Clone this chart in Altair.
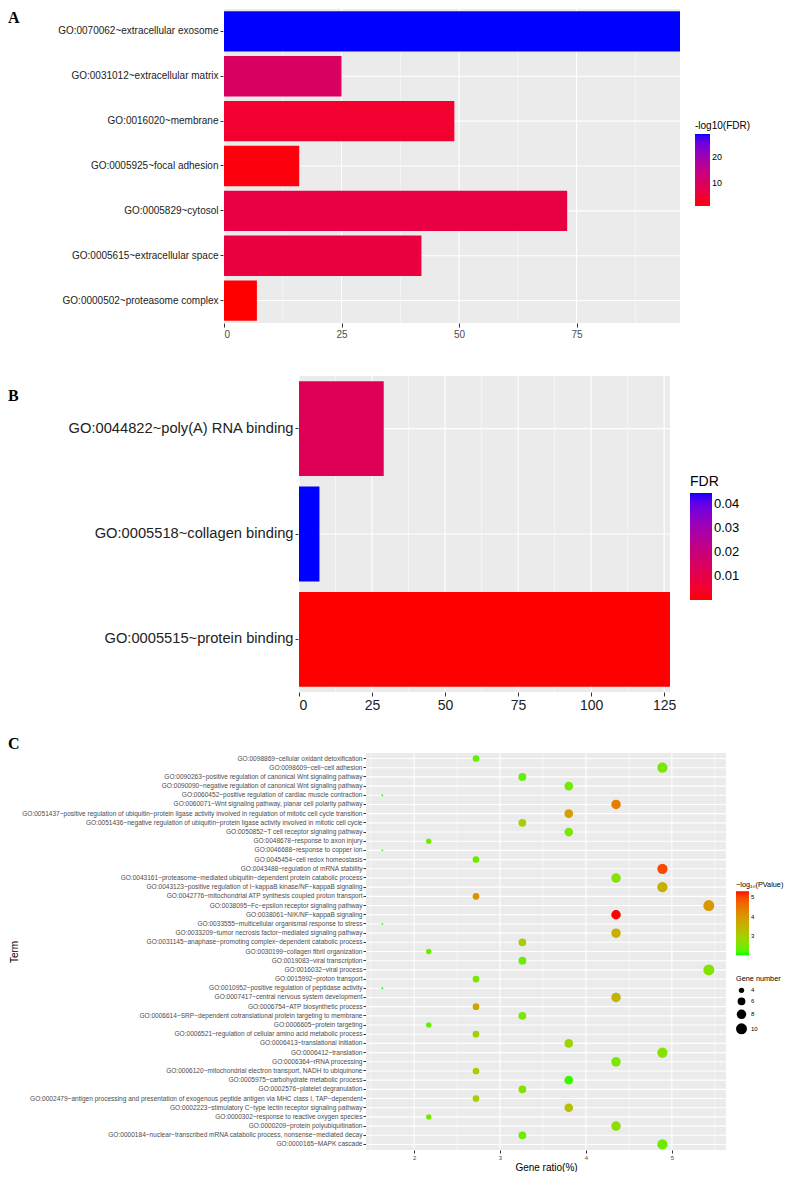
import altair as alt
import pandas as pd

FONT = "Liberation Sans"
SERIF = "Liberation Serif"
BG = "#EBEBEB"
AX_TXT = "#4D4D4D"
TICK = "#333333"

# ---------------- Panel A data ----------------
a_terms = [
    "GO:0070062~extracellular exosome",
    "GO:0031012~extracellular matrix",
    "GO:0016020~membrane",
    "GO:0005925~focal adhesion",
    "GO:0005829~cytosol",
    "GO:0005615~extracellular space",
    "GO:0000502~proteasome complex",
]
a_count = [97, 25, 49, 16, 73, 42, 7]
a_logfdr = [28.9, 10.1, 4.2, 1.5, 6.5, 5.9, 0.86]
a_domain = [0, 97]
a_ticks = [0, 25, 50, 75]
a_minor = [12.5, 37.5, 62.5, 87.5]
a_legend_vals = [10, 20]

# ---------------- Panel B data ----------------
b_terms = [
    "GO:0044822~poly(A) RNA binding",
    "GO:0005518~collagen binding",
    "GO:0005515~protein binding",
]
b_count = [29, 7, 127]
b_fdr = [0.0125, 0.0446, 0.00002]
b_domain = [0, 127]
b_ticks = [0, 25, 50, 75, 100, 125]
b_minor = [12.5, 37.5, 62.5, 87.5, 112.5]
b_legend_vals = [0.01, 0.02, 0.03, 0.04]

# ---------------- Panel C data ----------------
c_terms = [
    "GO:0098869~cellular oxidant detoxification",
    "GO:0098609~cell−cell adhesion",
    "GO:0090263~positive regulation of canonical Wnt signaling pathway",
    "GO:0090090~negative regulation of canonical Wnt signaling pathway",
    "GO:0060452~positive regulation of cardiac muscle contraction",
    "GO:0060071~Wnt signaling pathway, planar cell polarity pathway",
    "GO:0051437~positive regulation of ubiquitin−protein ligase activity involved in regulation of mitotic cell cycle transition",
    "GO:0051436~negative regulation of ubiquitin−protein ligase activity involved in mitotic cell cycle",
    "GO:0050852~T cell receptor signaling pathway",
    "GO:0048678~response to axon injury",
    "GO:0046688~response to copper ion",
    "GO:0045454~cell redox homeostasis",
    "GO:0043488~regulation of mRNA stability",
    "GO:0043161~proteasome−mediated ubiquitin−dependent protein catabolic process",
    "GO:0043123~positive regulation of I−kappaB kinase/NF−kappaB signaling",
    "GO:0042776~mitochondrial ATP synthesis coupled proton transport",
    "GO:0038095~Fc−epsilon receptor signaling pathway",
    "GO:0038061~NIK/NF−kappaB signaling",
    "GO:0033555~multicellular organismal response to stress",
    "GO:0033209~tumor necrosis factor−mediated signaling pathway",
    "GO:0031145~anaphase−promoting complex−dependent catabolic process",
    "GO:0030199~collagen fibril organization",
    "GO:0019083~viral transcription",
    "GO:0016032~viral process",
    "GO:0015992~proton transport",
    "GO:0010952~positive regulation of peptidase activity",
    "GO:0007417~central nervous system development",
    "GO:0006754~ATP biosynthetic process",
    "GO:0006614~SRP−dependent cotranslational protein targeting to membrane",
    "GO:0006605~protein targeting",
    "GO:0006521~regulation of cellular amino acid metabolic process",
    "GO:0006413~translational initiation",
    "GO:0006412~translation",
    "GO:0006364~rRNA processing",
    "GO:0006120~mitochondrial electron transport, NADH to ubiquinone",
    "GO:0005975~carbohydrate metabolic process",
    "GO:0002576~platelet degranulation",
    "GO:0002479~antigen processing and presentation of exogenous peptide antigen via MHC class I, TAP−dependent",
    "GO:0002223~stimulatory C−type lectin receptor signaling pathway",
    "GO:0000302~response to reactive oxygen species",
    "GO:0000209~protein polyubiquitination",
    "GO:0000184~nuclear−transcribed mRNA catabolic process, nonsense−mediated decay",
    "GO:0000165~MAPK cascade",
]
c_count = [5, 9, 6, 7, 3, 8, 7, 6, 7, 4,
           3, 5, 9, 8, 9, 5, 10, 8, 3, 8,
           6, 4, 6, 10, 5, 3, 8, 5, 6, 4,
           5, 7, 9, 8, 5, 7, 6, 5, 7, 4,
           8, 6, 9]
c_ratio = [2.72, 4.89, 3.26, 3.80, 1.63, 4.35, 3.80, 3.26, 3.80, 2.17,
           1.63, 2.72, 4.89, 4.35, 4.89, 2.72, 5.43, 4.35, 1.63, 4.35,
           3.26, 2.17, 3.26, 5.43, 2.72, 1.63, 4.35, 2.72, 3.26, 2.17,
           2.72, 3.80, 4.89, 4.35, 2.72, 3.80, 3.26, 2.72, 3.80, 2.17,
           4.35, 3.26, 4.89]
c_logp = [2.3, 2.5, 2.3, 2.4, 2.1, 4.4, 3.9, 3.0, 2.5, 2.4,
          2.1, 2.4, 5.0, 2.6, 3.6, 4.1, 4.0, 5.32, 2.1, 3.6,
          3.0, 2.4, 2.4, 2.6, 2.5, 2.0, 3.5, 3.8, 2.5, 2.3,
          3.0, 2.9, 2.6, 2.5, 3.0, 2.1, 2.6, 3.0, 3.3, 2.4,
          2.7, 2.4, 2.4]
c_domain = [1.44, 5.63]
c_ticks = [2, 3, 4, 5]
c_minor = [1.5, 2.5, 3.5, 4.5, 5.5]
c_color_legend_vals = [3, 4, 5]
c_size_legend_vals = [4, 6, 8, 10]


def make_x(scale, axis):
    def fn(field):
        return alt.X(f"{field}:Q", scale=scale, axis=axis)
    return fn


def grid_layers(df, yenc, xfn, dom, ticks, minor, height):
    bg = alt.Chart(pd.DataFrame({"lo": [dom[0]], "hi": [dom[1]]})).mark_rect(
        color=BG).encode(x=xfn("lo"), x2="hi:Q", y=alt.value(0), y2=alt.value(height))
    hgrid = alt.Chart(df).transform_calculate(
        lo=str(dom[0]), hi=str(dom[1])
    ).mark_rule(color="white", strokeWidth=1.1).encode(y=yenc, x=xfn("lo"), x2="hi:Q")
    vmaj = alt.Chart(pd.DataFrame({"t": ticks})).mark_rule(
        color="white", strokeWidth=1.1).encode(x=xfn("t"))
    vmin = alt.Chart(pd.DataFrame({"t": minor})).mark_rule(
        color="white", strokeWidth=0.5).encode(x=xfn("t"))
    return [bg, hgrid, vmaj, vmin]


def letter(ch, dx, dy):
    return alt.Chart(pd.DataFrame({"letter": [ch]})).mark_text(
        align="left", baseline="top", font=SERIF, fontWeight="bold",
        fontSize=16, color="black"
    ).encode(text="letter:N", x=alt.value(dx), y=alt.value(dy))


# Common origin for all panels = left edge of panel A's plot (x=224 on page)
LET_X = -216
# ---------------- Panel A ----------------
A_W, A_H = 456, 314
dfA = pd.DataFrame({"term": a_terms, "count": a_count, "logfdr": a_logfdr})
xA = make_x(
    alt.Scale(domain=a_domain, nice=False, zero=True),
    alt.Axis(values=a_ticks, title=None, grid=False, tickColor=TICK, tickSize=4,
             labelColor=AX_TXT, labelFontSize=10, labelPadding=2, domain=False,
             minExtent=52, maxExtent=52))
yA = alt.Y("term:N", sort=None,
           scale=alt.Scale(paddingInner=0.1, paddingOuter=0.05),
           axis=alt.Axis(title=None, grid=False, tickColor=TICK, tickSize=4,
                         labelColor="#222222", labelFontSize=10, labelPadding=2,
                         labelLimit=0, domain=False))
barsA = alt.Chart(dfA).mark_bar().encode(
    x=xA("count"), y=yA,
    color=alt.Color("logfdr:Q",
                    scale=alt.Scale(range=["#FF0000", "#0000FF"], interpolate="lab"),
                    legend=alt.Legend(title="-log10(FDR)", orient="none",
                                      legendX=471, legendY=112,
                                      values=a_legend_vals, gradientLength=72,
                                      gradientThickness=15, titleFontSize=10,
                                      labelFontSize=9, titlePadding=3)),
)
panelA = alt.layer(*grid_layers(dfA, yA, xA, a_domain, a_ticks, a_minor, A_H),
                   barsA, letter("A", LET_X, 1)).properties(width=A_W, height=A_H)

# ---------------- Panel B ----------------
B_OFF, B_W, B_H = 75, 446, 316
dfB = pd.DataFrame({"term": b_terms, "count": b_count, "fdr": b_fdr})
xB = make_x(
    alt.Scale(domain=b_domain, range=[B_OFF, B_W], nice=False, zero=True),
    alt.Axis(values=b_ticks, title=None, grid=False, tickColor=TICK, tickSize=4,
             labelColor="#222222", labelFontSize=14, labelPadding=2, domain=False))
yB = alt.Y("term:N", sort=None,
           scale=alt.Scale(paddingInner=0.1, paddingOuter=0.05),
           axis=alt.Axis(title=None, grid=False, offset=-B_OFF, tickColor=TICK,
                         tickSize=4, labelColor="#222222", labelFontSize=14.7,
                         labelPadding=2, labelLimit=0, domain=False))
barsB = alt.Chart(dfB).mark_bar().encode(
    x=xB("count"), y=yB,
    color=alt.Color("fdr:Q",
                    scale=alt.Scale(range=["#FF0000", "#0000FF"], interpolate="lab"),
                    legend=alt.Legend(title="FDR", orient="none",
                                      legendX=466, legendY=99,
                                      values=b_legend_vals, format=".2f",
                                      gradientLength=107, gradientThickness=22,
                                      titleFontSize=14, labelFontSize=13,
                                      titlePadding=4)),
)
panelB = alt.layer(*grid_layers(dfB, yB, xB, b_domain, b_ticks, b_minor, B_H),
                   barsB, letter("B", LET_X, 12),
                   letter("C", LET_X, B_H + 44)).properties(width=B_W, height=B_H)

# ---------------- Panel C ----------------
C_OFF, C_W, C_H = 142, 502, 397
dfC = pd.DataFrame({"term": c_terms, "ratio": c_ratio, "count": c_count, "logp": c_logp})
xC = make_x(
    alt.Scale(domain=c_domain, range=[C_OFF, C_W], nice=False, zero=False),
    alt.Axis(values=c_ticks, title="Gene ratio(%)", grid=False, tickColor=TICK,
             tickSize=3, labelColor=AX_TXT, labelFontSize=6, labelPadding=1,
             titleFontSize=10, titleFontWeight="normal", titleColor="black",
             titlePadding=2, domain=False))
yC = alt.Y("term:N", sort=None,
           scale=alt.Scale(paddingInner=0, paddingOuter=0.1),
           axis=alt.Axis(title="Term", grid=False, offset=-C_OFF, tickColor=TICK,
                         tickSize=3, labelColor=AX_TXT, labelFontSize=6.55,
                         labelPadding=1, labelLimit=0, domain=False, titleFontSize=10,
                         titleFontWeight="normal", titleColor="black",
                         titlePadding=4, minExtent=343, maxExtent=343))
pointsC = alt.Chart(dfC).mark_circle(opacity=1).encode(
    x=xC("ratio"), y=yC,
    color=alt.Color("logp:Q",
                    scale=alt.Scale(range=["#00FF00", "#FF0000"], interpolate="lab"),
                    legend=alt.Legend(title="−log₁₀(PValue)", orient="none",
                                      legendX=512, legendY=128,
                                      values=c_color_legend_vals,
                                      gradientLength=64, gradientThickness=13,
                                      titleFontSize=7.3, labelFontSize=6,
                                      titlePadding=3)),
    size=alt.Size("count:Q",
                  scale=alt.Scale(domain=[3, 4, 6, 8, 10], range=[3.3, 28, 61, 90, 121]),
                  legend=alt.Legend(title="Gene number", orient="none",
                                    legendX=512, legendY=222,
                                    values=c_size_legend_vals, symbolType="circle",
                                    symbolFillColor="black", symbolStrokeWidth=0,
                                    symbolOpacity=1, titleFontSize=7.3,
                                    labelFontSize=6, rowPadding=4, titlePadding=5)),
)
panelC = alt.layer(*grid_layers(dfC, yC, xC, c_domain, c_ticks, c_minor, C_H),
                   pointsC).properties(width=C_W, height=C_H)

chart = alt.vconcat(panelA, panelB, panelC, spacing=0).resolve_scale(
    x="independent", y="independent", color="independent", size="independent"
).resolve_legend(color="independent", size="independent").properties(
    padding=0
).configure_view(strokeWidth=0).configure_axis(
    labelFont=FONT, titleFont=FONT
).configure_legend(
    labelFont=FONT, titleFont=FONT, titleFontWeight="normal", titleColor="black",
    labelColor="black"
).configure_text(font=FONT)

chart.save("out.html", embed_options={"renderer": "svg", "actions": False})
